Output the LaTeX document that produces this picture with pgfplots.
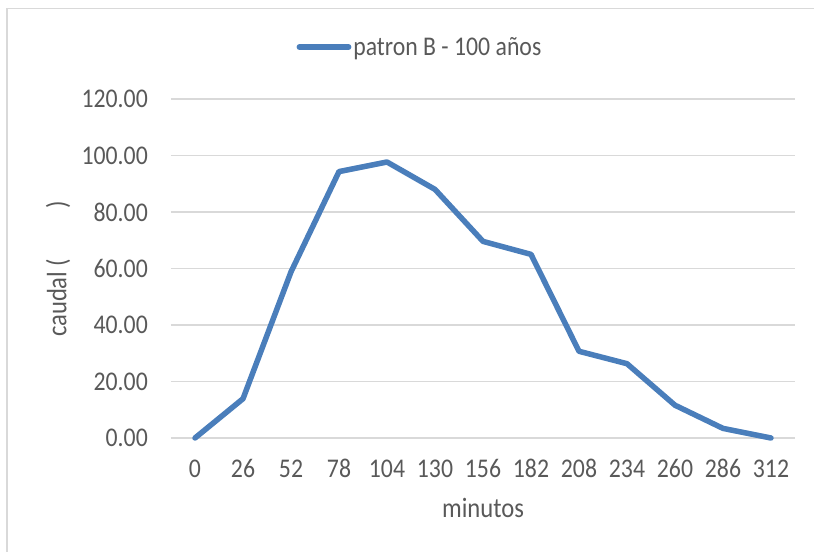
\documentclass[border=0pt]{standalone}
\usepackage{pgfplots}
\pgfplotsset{compat=1.18}
\usepackage{fontspec}
\setmainfont{Carlito}[FakeStretch=0.88]
\definecolor{serie}{HTML}{4A7EBB}
\definecolor{rejilla}{HTML}{D9D9D9}
\definecolor{texto}{HTML}{595959}

\begin{document}
\begin{tikzpicture}
\begin{axis}[
    scale only axis,
    width=624bp, height=339bp,
    xmin=-0.5, xmax=12.5,
    ymin=0, ymax=120,
    xtick={0,...,12},
    xticklabels={0,26,52,78,104,130,156,182,208,234,260,286,312},
    ytick={0,20,...,120},
    ymajorgrids,
    grid style={rejilla, line width=1.4bp},
    axis line style={draw=none},
    major tick length=0pt,
    tick label style={texto, font=\fontsize{27bp}{30bp}\selectfont, inner sep=0pt},
    /pgf/number format/.cd, fixed, fixed zerofill, precision=2, assume math mode=true,
    /pgfplots/.cd,
    yticklabel style={anchor=east, xshift=-23bp},
    xticklabel style={anchor=base, yshift=-39bp},
    xlabel={minutos},
    xlabel style={texto, font=\fontsize{28bp}{32bp}\selectfont,
        at={(rel axis cs:0.5,0)}, anchor=center, yshift=-70bp},
    ylabel={caudal (\hspace{50bp})},
    ylabel style={texto, font=\fontsize{28bp}{32bp}\selectfont,
        at={(rel axis cs:0,0.4985)}, anchor=center, yshift=113bp},
    legend style={at={(rel axis cs:0.399,1.153)}, anchor=center, draw=none, fill=none,
        font=\fontsize{27bp}{30bp}\selectfont, text=texto, inner sep=0pt,
        /tikz/every even column/.append style={column sep=0pt}},
    legend image code/.code={\draw[line width=5.5bp, line cap=round, serie] (2.75bp,0bp) -- (52bp,0bp);},
    clip=false,
]
\addplot[serie, line width=5.5bp, line join=round, line cap=round] coordinates {
    (0,0) (1,13.9) (2,58.8) (3,94.3) (4,97.7) (5,88.0) (6,69.6)
    (7,65.0) (8,30.7) (9,26.3) (10,11.6) (11,3.4) (12,0)
};
\addlegendentry{patron B - 100 años}
\end{axis}
\path[use as bounding box] (-171bp,-114bp) rectangle (643bp,438bp);
\draw[rejilla, line width=1.5bp] (-164bp,-120bp) -- (-164bp,429.5bp) -- (650bp,429.5bp);
\end{tikzpicture}
\end{document}
